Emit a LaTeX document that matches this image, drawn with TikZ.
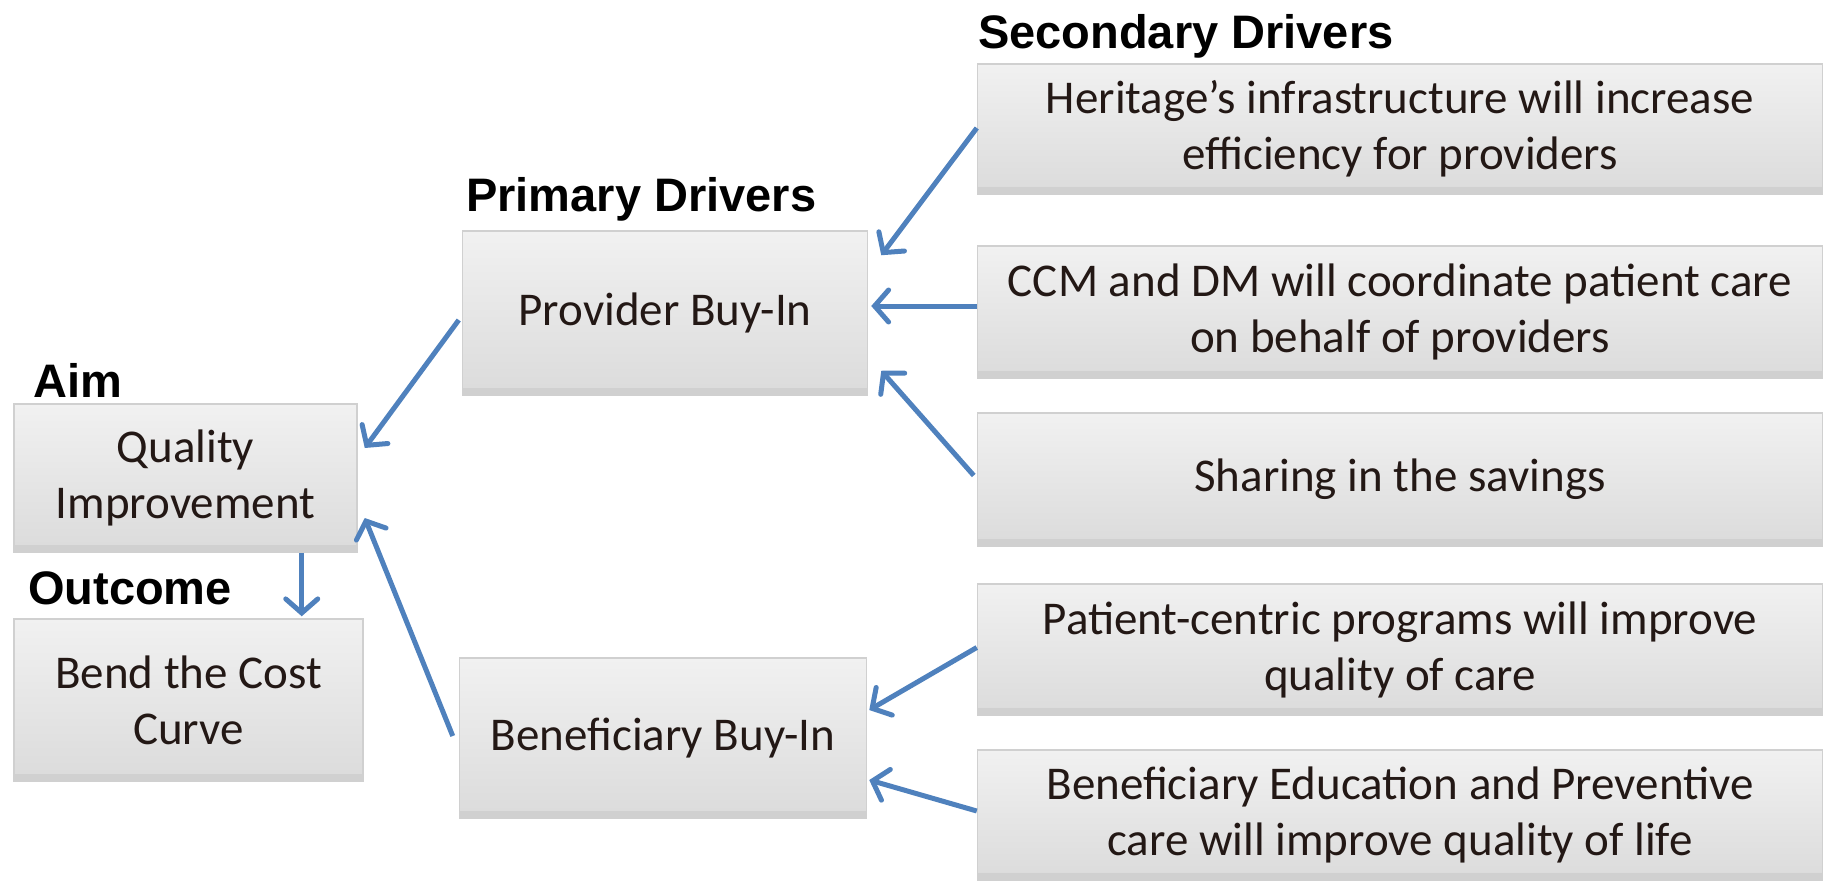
\documentclass[tikz,border=0pt]{standalone}
\usepackage{fontspec}
\setmainfont{Carlito}
\newfontfamily\headfont{Liberation Sans}
\usepackage{tikz}
\usetikzlibrary{arrows.meta,calc}
\usepackage{xcolor}
\definecolor{linkblue}{RGB}{79,129,189}
\definecolor{boxtop}{RGB}{241,241,241}
\definecolor{boxbot}{RGB}{219,219,219}
\definecolor{boxline}{RGB}{208,208,208}
\definecolor{boxtext}{RGB}{35,24,21}

\begin{document}
\begin{tikzpicture}[x=1pt,y=-1pt,
    box/.style={draw=boxline,line width=1.5pt,top color=boxtop,bottom color=boxbot,
      text=boxtext,align=center,inner sep=0pt,font=\fontsize{47}{56}\selectfont,
      path picture={\fill[boxline] (path picture bounding box.south west) rectangle ([yshift=7pt]path picture bounding box.south east);}},
    head/.style={anchor=base west,inner sep=0pt,font=\headfont\bfseries\fontsize{47}{56}\selectfont},
    link/.style={draw=linkblue,line width=5pt,-{Straight Barb[length=14pt,width=32pt,line cap=round]}}]
    \useasboundingbox (0,0) rectangle (1825,886);

    \node[head] (aimlbl) at (33,397) {Aim};
    \node[head] (outlbl) at (28,604) {Outcome};
    \node[head] (primlbl) at (466,211) {Primary Drivers};
    \node[head] (seclbl) at (978,48) {Secondary Drivers};

    \node[box, minimum width=343pt, minimum height=148pt] (qual) at (185.5,478) {Quality\\Improvement};
    \node[box, minimum width=349pt, minimum height=162pt] (bend) at (188.5,700) {Bend the Cost\\Curve};
    \node[box, minimum width=405pt, minimum height=164pt] (prov) at (665,313) {Provider Buy-In};
    \node[box, minimum width=407pt, minimum height=160pt] (benef) at (663,738) {Beneficiary Buy-In};

    \node[box, minimum width=845pt, minimum height=130pt] (infra) at (1400,129) {Heritage’s infrastructure will increase\\efficiency for providers};
    \node[box, minimum width=845pt, minimum height=132pt] (ccm) at (1400,312) {CCM and DM will coordinate patient care\\on behalf of providers};
    \node[box, minimum width=845pt, minimum height=133pt] (share) at (1400,479.5) {Sharing in the savings};
    \node[box, minimum width=845pt, minimum height=131pt] (centric) at (1400,649.5) {Patient-centric programs will improve\\quality of care};
    \node[box, minimum width=845pt, minimum height=130pt] (educ) at (1400,815) {Beneficiary Education and Preventive\\care will improve quality of life};

    \coordinate (qbot) at ($(qual.south east)+(-56,0)$);

    \draw[link] ($(infra.west)+(0,-1)$) -- ($(prov.north east)+(13,25)$);
    \draw[link] ($(ccm.west)+(0,-6)$) -- ($(prov.east)+(3,-7)$);
    \draw[link] ($(share.west)+(-3,-4)$) -- ($(prov.south east)+(13,-25)$);
    \draw[link] ($(prov.west)+(-3,7)$) -- ($(qual.east)+(7,-30)$);
    \draw[link] ($(benef.west)+(-6,-2)$) -- ($(qual.east)+(7,40)$);
    \draw[link] (qbot) -- ($(qbot |- bend.north)+(0,-2)$);
    \draw[link] ($(centric.west)+(0,-2)$) -- ($(benef.east)+(2,-28)$);
    \draw[link] ($(educ.west)+(0,-4)$) -- ($(benef.east)+(2,42)$);

\end{tikzpicture}
\end{document}
